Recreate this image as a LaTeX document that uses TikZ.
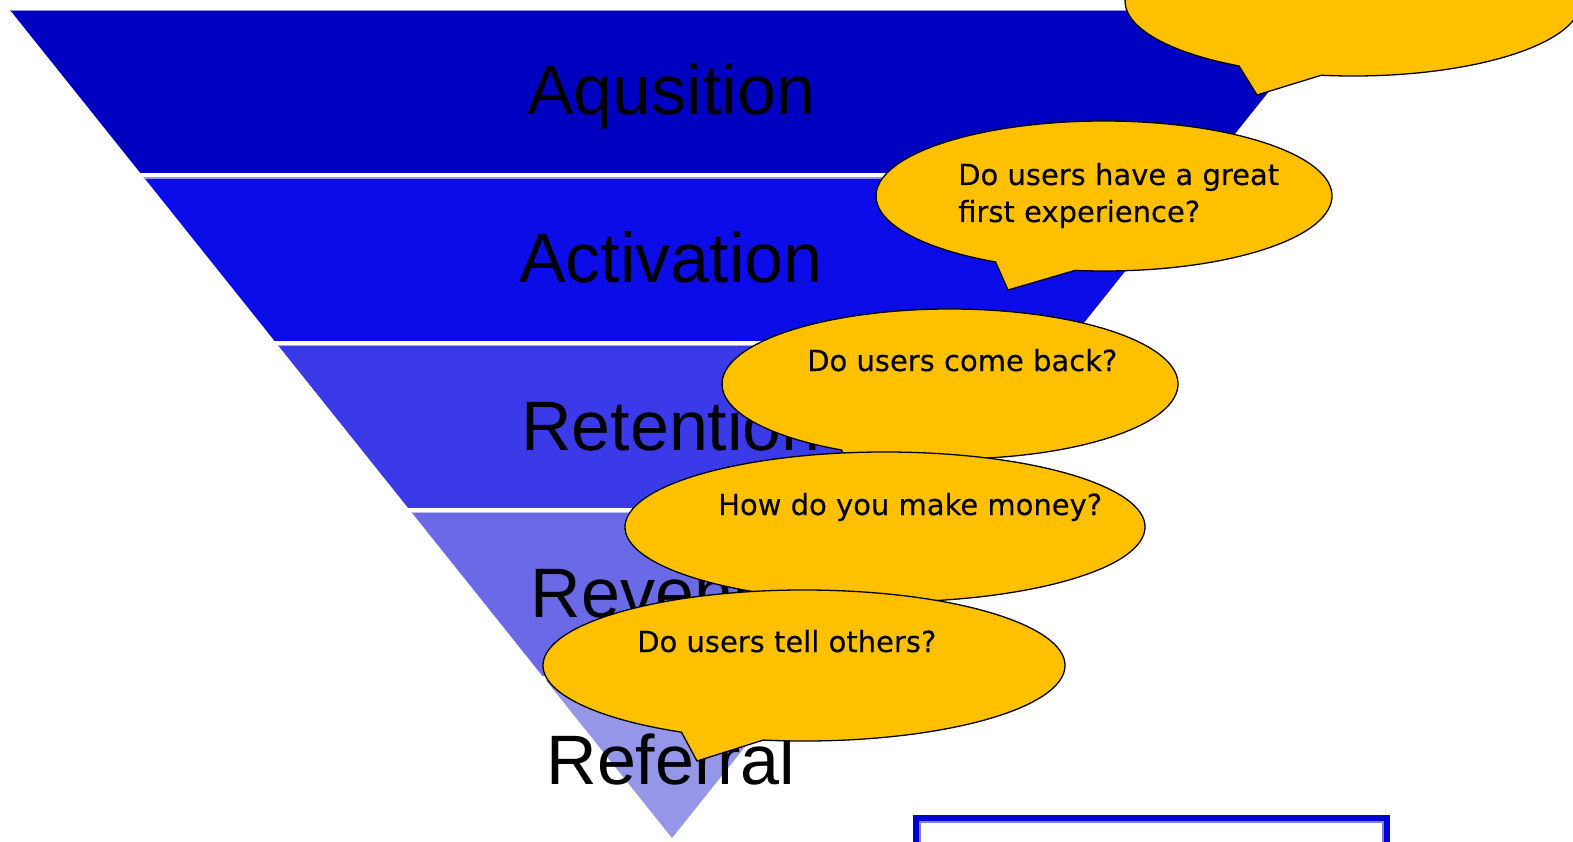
\documentclass[tikz,border=0pt]{standalone}
\usepackage{fontspec}
\setmainfont{Liberation Sans}
\newfontfamily\bubblefont[FakeBold=0.3]{DejaVu Sans}
\definecolor{bandA}{RGB}{0,0,192}
\definecolor{bandB}{RGB}{12,12,232}
\definecolor{bandC}{RGB}{58,58,232}
\definecolor{bandD}{RGB}{106,106,230}
\definecolor{bandE}{RGB}{150,150,232}
\definecolor{bubbleyellow}{RGB}{255,192,0}
\definecolor{boxblue}{RGB}{0,0,210}
\definecolor{boxlight}{RGB}{128,128,226}
% #1 cx, #2 cy, #3 rx, #4 ry, #5 start angle, #6 end angle, #7 tip
\newcommand\speechbubble[7]{%
  \draw[bubble] (#1,#2) ++(#5:#3 and #4)
    arc[start angle=#5, end angle=#6, x radius=#3, y radius=#4]
    -- #7 -- cycle;}
\begin{document}
\begin{tikzpicture}[x=1pt,y=1pt,
  bandlabel/.style={font=\fontsize{70}{84}\selectfont, anchor=base, inner sep=0},
  bubbletext/.style={font=\bubblefont\fontsize{29}{37}\selectfont, anchor=base west, inner sep=0, align=left},
  bubble/.style={fill=bubbleyellow, draw=black, line width=1.3pt, line join=miter},
  topline/.style={line width=1.2pt}]
\useasboundingbox (0,0) rectangle (1573,-842);
% funnel
\begin{scope}
\clip (10,-10) -- (1334,-10) -- (672,-838) -- cycle;
\fill[bandA] (0,-10) rectangle (1573,-173);
\fill[bandB] (0,-177.5) rectangle (1573,-341);
\fill[bandC] (0,-344.5) rectangle (1573,-508);
\fill[bandD] (0,-511.5) rectangle (1573,-676);
\fill[bandE] (0,-679.5) rectangle (1573,-845);
\draw[topline, bandA!45!white] (0,-10.6) -- (1573,-10.6);
\draw[topline, bandB!45!white] (0,-178.1) -- (1573,-178.1);
\draw[topline, bandC!45!white] (0,-345.1) -- (1573,-345.1);
\draw[topline, bandD!45!white] (0,-512.1) -- (1573,-512.1);
\draw[topline, bandE!45!white] (0,-680.1) -- (1573,-680.1);
\end{scope}
% band labels
\node[bandlabel] (aq) at (671,-115) {Aqusition};
\node[bandlabel] (ac) at (671,-283) {Activation};
\node[bandlabel] (re) at (671,-450) {Retention};
\node[bandlabel] (rv) at (671,-617) {Revenue};
\node[bandlabel] (rf) at (671,-784) {Referral};
% bubbles
\speechbubble{1353}{-1}{228}{75}{262}{600}{(1257,-95)}
\speechbubble{1104}{-196}{228}{75}{262.7}{601.6}{(1008,-290)}
\node[bubbletext] (q2) at (958,-222) {Do users have a great\\first experience?};
\speechbubble{950}{-384}{228}{75}{262.7}{601.6}{(854,-478)}
\node[bubbletext] (q3) at (807,-371) {Do users come back?};
\speechbubble{885}{-527}{260}{75}{261}{602}{(780,-622)}
\node[bubbletext] (q4) at (718,-515) {How do you make money?};
\speechbubble{804}{-665.5}{261}{75.5}{261}{602}{(697,-761)}
\node[bubbletext] (q5) at (637,-652) {Do users tell others?};
% box at bottom right
\draw[boxblue, line width=6pt] (916,-850) -- (916,-818) -- (1387,-818) -- (1387,-850);
\draw[boxlight, line width=2.5pt] (920.2,-850) -- (920.2,-822.2) -- (1382.8,-822.2) -- (1382.8,-850);
\end{tikzpicture}
\end{document}
